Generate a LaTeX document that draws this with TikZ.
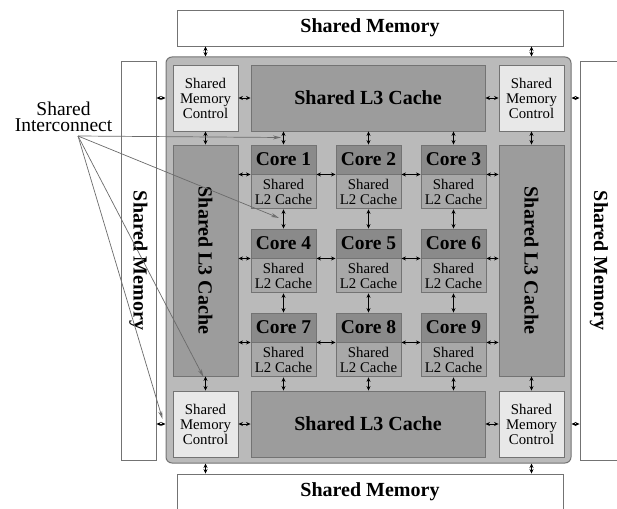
\documentclass[tikz,border=0pt]{standalone}
\usepackage{fontspec}
\setmainfont{Liberation Serif}
\usetikzlibrary{arrows.meta}
\definecolor{chipbg}{gray}{0.73}
\definecolor{lthree}{gray}{0.61}
\definecolor{coret}{gray}{0.54}
\definecolor{ltwo}{gray}{0.66}
\definecolor{smcfill}{gray}{0.91}
\definecolor{edge}{gray}{0.45}
\definecolor{icline}{gray}{0.42}
\tikzset{
  mem/.style={draw=edge, fill=white, line width=0.9pt, inner sep=0pt},
  memfont/.style={font=\bfseries\fontsize{20}{20}\selectfont},
  chipbox/.style={draw=edge, fill=chipbg, line width=1pt, rounded corners=6pt, inner sep=0pt},
  smc/.style={draw=edge, fill=smcfill, line width=0.9pt, inner sep=0pt, minimum width=65pt, minimum height=66pt, align=center, font=\fontsize{14.8}{15}\selectfont},
  lthreebox/.style={draw=edge, fill=lthree, line width=0.9pt, inner sep=0pt},
  lthreefont/.style={font=\bfseries\fontsize{20}{20}\selectfont},
  coretitle/.style={draw=edge, fill=coret, line width=0.9pt, inner sep=0pt, minimum width=65pt, minimum height=29pt, font=\bfseries\fontsize{19.5}{20}\selectfont},
  ltwobox/.style={draw=edge, fill=ltwo, line width=0.9pt, inner sep=0pt, minimum width=65pt, minimum height=34pt, align=center, font=\fontsize{14.8}{15}\selectfont},
  link/.style={{Stealth[length=4.5pt,width=4pt]}-{Stealth[length=4.5pt,width=4pt]}, line width=0.7pt, black},
  icarrow/.style={draw=icline, line width=0.7pt, -{Stealth[open,length=8pt,width=4pt]}},
}
\begin{document}
\begin{tikzpicture}[x=1pt,y=-1pt]
\useasboundingbox (0,0) rectangle (617,508);
% outer shared memories
\node[mem, minimum width=386pt, minimum height=36pt, memfont] (smT) at (370,28) {Shared Memory};
\node[mem, minimum width=386pt, minimum height=36pt, memfont] (smB) at (370,492) {Shared Memory};
\node[mem, minimum width=35pt, minimum height=399pt,
      label={[rotate=-90, memfont]center:Shared Memory}] (smL) at (138.5,260.5) {};
\node[mem, minimum width=38pt, minimum height=399pt,
      label={[rotate=-90, memfont]center:Shared Memory}] (smR) at (599,260.5) {};
% chip
\node[chipbox, minimum width=405pt, minimum height=406pt] (chip) at (368.5,260) {};
% memory controls
\node[smc] (smcTL) at (205.5,98) {Shared\\Memory\\Control};
\node[smc] (smcTR) at (531.5,98) {Shared\\Memory\\Control};
\node[smc] (smcBL) at (205.5,424) {Shared\\Memory\\Control};
\node[smc] (smcBR) at (531.5,424) {Shared\\Memory\\Control};
% L3 caches
\node[lthreebox, minimum width=234pt, minimum height=66pt, lthreefont] (l3T) at (368,98) {Shared L3 Cache};
\node[lthreebox, minimum width=234pt, minimum height=66pt, lthreefont] (l3B) at (368,424) {Shared L3 Cache};
\node[lthreebox, minimum width=65pt, minimum height=231pt,
      label={[rotate=-90, lthreefont]center:Shared L3 Cache}] (l3L) at (205.5,260.5) {};
\node[lthreebox, minimum width=65pt, minimum height=231pt,
      label={[rotate=-90, lthreefont]center:Shared L3 Cache}] (l3R) at (531.5,260.5) {};
% cores
\foreach \n/\cx/\ty in {1/283.5/159.5, 2/368.5/159.5, 3/453.5/159.5,
                        4/283.5/243.5, 5/368.5/243.5, 6/453.5/243.5,
                        7/283.5/327.5, 8/368.5/327.5, 9/453.5/327.5}{
  \node[coretitle] (c\n t) at (\cx,\ty) {Core \n};
  \node[ltwobox, anchor=north] (c\n l) at (c\n t.south) {Shared\\L2 Cache};
}
% links outside chip
\draw[link] (smT.south -| smcTL) -- (chip.north -| smcTL);
\draw[link] (smT.south -| smcTR) -- (chip.north -| smcTR);
\draw[link] (smB.north -| smcBL) -- (chip.south -| smcBL);
\draw[link] (smB.north -| smcBR) -- (chip.south -| smcBR);
\draw[link] (smL.east |- smcTL) -- (chip.west |- smcTL);
\draw[link] (smL.east |- smcBL) -- (chip.west |- smcBL);
\draw[link] (smR.west |- smcTR) -- (chip.east |- smcTR);
\draw[link] (smR.west |- smcBR) -- (chip.east |- smcBR);
% controls to L3
\draw[link] (smcTL.east) -- (l3T.west);
\draw[link] (l3T.east) -- (smcTR.west);
\draw[link] (smcBL.east) -- (l3B.west);
\draw[link] (l3B.east) -- (smcBR.west);
\draw[link] (smcTL.south) -- (l3L.north);
\draw[link] (smcTR.south) -- (l3R.north);
\draw[link] (l3L.south) -- (smcBL.north);
\draw[link] (l3R.south) -- (smcBR.north);
% L3 to cores
\foreach \n in {1,2,3}{\draw[link] (l3T.south -| c\n t) -- (c\n t.north);}
\foreach \n in {7,8,9}{\draw[link] (c\n l.south) -- (l3B.north -| c\n l);}
% vertical core links
\foreach \a/\b in {1/4,2/5,3/6,4/7,5/8,6/9}{\draw[link] (c\a l.south) -- (c\b t.north);}
% horizontal core links
\foreach \a/\b/\c in {1/2/3,4/5/6,7/8/9}{
  \draw[link] (l3L.east |- c\a t.south) -- (c\a t.south west);
  \draw[link] (c\a t.south east) -- (c\b t.south west);
  \draw[link] (c\b t.south east) -- (c\c t.south west);
  \draw[link] (c\c t.south east) -- (l3R.west |- c\c t.south);
}
% shared interconnect
\node[align=center, inner sep=0pt, font=\fontsize{19.5}{16.5}\selectfont] (ic) at (63.5,117) {Shared\\Interconnect};
\coordinate (icsrc) at (78,136);
\coordinate (t1) at (281,137.5);
\coordinate (t2) at (279,218);
\coordinate (t3) at (203.5,377);
\coordinate (t4) at (162.5,419);
\draw[icarrow] (icsrc) -- (t1);
\draw[icarrow] (icsrc) -- (t2);
\draw[icarrow] (icsrc) -- (t3);
\draw[icarrow] (icsrc) -- (t4);
\end{tikzpicture}
\end{document}
